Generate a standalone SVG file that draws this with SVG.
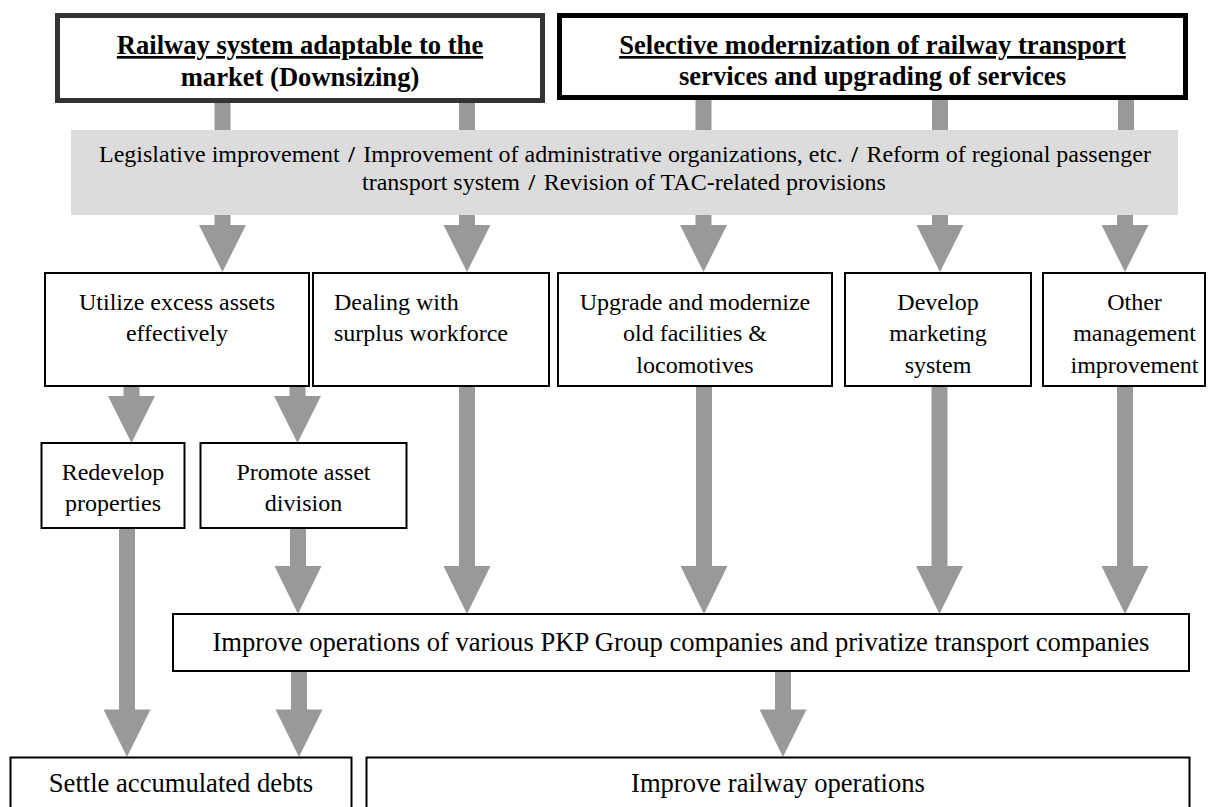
<svg xmlns="http://www.w3.org/2000/svg" width="1215" height="807" viewBox="0 0 1215 807">
<style>
.t{font-family:"Liberation Serif","Times New Roman",serif;font-size:24px;fill:#000}
.tl{font-family:"Liberation Serif","Times New Roman",serif;font-size:26.6px;fill:#000}
.tb{font-family:"Liberation Serif","Times New Roman",serif;font-size:26.6px;font-weight:bold;fill:#000}
.c{text-anchor:middle}
.sl{font-weight:bold}
.box{fill:#fff;stroke:#000;stroke-width:2}
.arr{fill:#999}
</style>
<rect width="1215" height="807" fill="#fff"/>
<g id="connectors">
  <rect class="arr" x="214.5" y="98" width="16" height="34"/>
  <rect class="arr" x="459" y="98" width="16" height="34"/>
  <rect class="arr" x="695.5" y="98" width="16" height="34"/>
  <rect class="arr" x="932" y="98" width="16" height="34"/>
  <rect class="arr" x="1118" y="98" width="16" height="34"/>
  <path class="arr" d="M214.5,214 H230.5 V225 H246 L222.5,272 L199,225 H214.5 Z"/>
  <path class="arr" d="M459,214 H475 V225 H490.5 L467,272 L443.5,225 H459 Z"/>
  <path class="arr" d="M695.5,214 H711.5 V225 H727 L703.5,272 L680,225 H695.5 Z"/>
  <path class="arr" d="M932,214 H948 V225 H963.5 L940,272 L916.5,225 H932 Z"/>
  <path class="arr" d="M1117,214 H1133 V225 H1148.5 L1125,272 L1101.5,225 H1117 Z"/>
  <path class="arr" d="M123.5,386 H139.5 V396 H155 L131.5,443 L108,396 H123.5 Z"/>
  <path class="arr" d="M289.5,386 H305.5 V396 H321 L297.5,443 L274,396 H289.5 Z"/>
  <path class="arr" d="M290,527 H306 V566 H321.5 L298,614 L274.5,566 H290 Z"/>
  <path class="arr" d="M459,386 H475 V566 H490.5 L467,614 L443.5,566 H459 Z"/>
  <path class="arr" d="M696,386 H712 V566 H727.5 L704,614 L680.5,566 H696 Z"/>
  <path class="arr" d="M931.5,386 H947.5 V566 H963 L939.5,614 L916,566 H931.5 Z"/>
  <path class="arr" d="M1117,386 H1133 V566 H1148.5 L1125,614 L1101.5,566 H1117 Z"/>
  <path class="arr" d="M119,527 H135 V709.5 H150.5 L127,757 L103.5,709.5 H119 Z"/>
  <path class="arr" d="M291,670 H307 V709.5 H322.5 L299,757 L275.5,709.5 H291 Z"/>
  <path class="arr" d="M775,670 H791 V709.5 H806.5 L783,757 L759.5,709.5 H775 Z"/>
</g>
<g id="title-left">
  <rect x="57.5" y="15.5" width="485" height="85" fill="#fff" stroke="#333" stroke-width="5"/>
  <text class="tb c" x="300" y="54"><tspan text-decoration="underline">Railway system adaptable to the</tspan></text>
  <text class="tb c" x="300" y="86">market (Downsizing)</text>
</g>
<g id="title-right">
  <rect x="559.5" y="15.5" width="626" height="82" fill="#fff" stroke="#000" stroke-width="5"/>
  <text class="tb c" x="872.5" y="54"><tspan text-decoration="underline">Selective modernization of railway transport</tspan></text>
  <text class="tb c" x="872.5" y="85">services and upgrading of services</text>
</g>
<g id="band">
  <rect x="71" y="130" width="1107" height="85" fill="#dcdcdc"/>
  <text class="t c" x="625" y="162">Legislative improvement <tspan class="sl" dx="2.5">/</tspan><tspan dx="2.5"> Improvement of administrative organizations, etc. </tspan><tspan class="sl" dx="2.5">/</tspan><tspan dx="2.5"> Reform of regional passenger</tspan></text>
  <text class="t c" x="624" y="190">transport system <tspan class="sl" dx="2.5">/</tspan><tspan dx="2.5"> Revision of TAC-related provisions</tspan></text>
</g>
<g id="utilize">
  <rect class="box" x="45" y="273" width="264" height="113"/>
  <text class="t c" x="177" y="310">Utilize excess assets</text>
  <text class="t c" x="177" y="341">effectively</text>
</g>
<g id="dealing">
  <rect class="box" x="313" y="273" width="236" height="113"/>
  <text class="t" x="334" y="310">Dealing with</text>
  <text class="t" x="334" y="341">surplus workforce</text>
</g>
<g id="upgrade">
  <rect class="box" x="558" y="273" width="274" height="113"/>
  <text class="t c" x="695" y="310">Upgrade and modernize</text>
  <text class="t c" x="695" y="341">old facilities &amp;</text>
  <text class="t c" x="695" y="372.5">locomotives</text>
</g>
<g id="develop">
  <rect class="box" x="845" y="273" width="186" height="113"/>
  <text class="t c" x="938" y="310">Develop</text>
  <text class="t c" x="938" y="341">marketing</text>
  <text class="t c" x="938" y="372.5">system</text>
</g>
<g id="other">
  <rect class="box" x="1043" y="273" width="162" height="113"/>
  <text class="t c" x="1134.5" y="310">Other</text>
  <text class="t c" x="1134.5" y="341">management</text>
  <text class="t c" x="1134.5" y="372.5">improvement</text>
</g>
<g id="redevelop">
  <rect class="box" x="41.5" y="443" width="143" height="85"/>
  <text class="t c" x="113" y="480">Redevelop</text>
  <text class="t c" x="113" y="511">properties</text>
</g>
<g id="promote">
  <rect class="box" x="200.5" y="443" width="206" height="85"/>
  <text class="t c" x="303.5" y="480">Promote asset</text>
  <text class="t c" x="303.5" y="511">division</text>
</g>
<g id="improve-ops">
  <rect class="box" x="173" y="614" width="1016" height="57"/>
  <text class="tl c" x="681" y="650.5">Improve operations of various PKP Group companies and privatize transport companies</text>
</g>
<g id="settle">
  <rect class="box" x="10.5" y="757.5" width="341" height="60"/>
  <text class="tl c" x="181" y="791.5">Settle accumulated debts</text>
</g>
<g id="improve-railway">
  <rect class="box" x="366.5" y="757.5" width="823" height="60"/>
  <text class="tl c" x="778" y="791.5">Improve railway operations</text>
</g>
</svg>
